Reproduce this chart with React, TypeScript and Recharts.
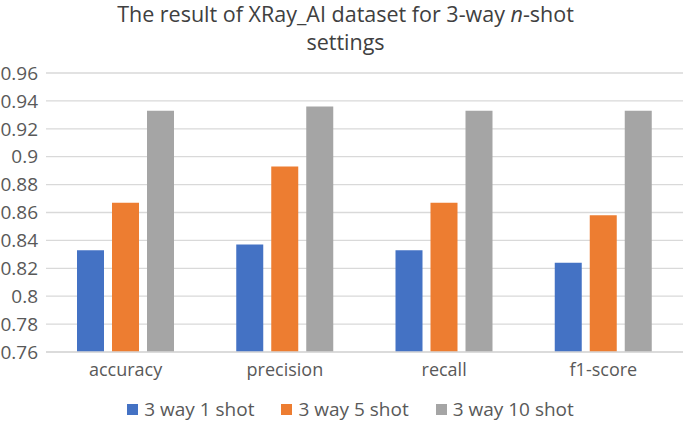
import React from "react";
import { BarChart, Bar, XAxis, YAxis, CartesianGrid, Legend } from "recharts";

const categories = ["accuracy", "precision", "recall", "f1-score"];
const oneShot = [0.833, 0.837, 0.833, 0.824];
const fiveShot = [0.867, 0.893, 0.867, 0.858];
const tenShot = [0.933, 0.936, 0.933, 0.933];
const yTicks = [0.76, 0.78, 0.8, 0.82, 0.84, 0.86, 0.88, 0.9, 0.92, 0.94, 0.96];
const seriesNames = ["3 way 1 shot", "3 way 5 shot", "3 way 10 shot"];
const colors = ["#4472C4", "#ED7D31", "#A5A5A5"];

const data = categories.map((c, i) => ({
  name: c,
  s1: oneShot[i],
  s5: fiveShot[i],
  s10: tenShot[i],
}));

const FONT = "'Open Sans', sans-serif";

const LegendContent = (props: any) => {
  const payload = [...(props.payload || [])].sort(
    (a: any, b: any) => seriesNames.indexOf(a.value) - seriesNames.indexOf(b.value)
  );
  return (
    <div
      style={{
        display: "flex",
        justifyContent: "center",
        alignItems: "center",
        height: 27,
        lineHeight: "27px",
        fontFamily: FONT,
        fontSize: 19,
        color: "#595959",
        paddingLeft: 18,
      }}
    >
      {payload.map((p: any, i: number) => (
        <div key={i} style={{ display: "flex", alignItems: "center", marginRight: i < payload.length - 1 ? 27 : 0 }}>
          <div style={{ width: 11, height: 11, background: p.color, marginRight: 6 }} />
          <span>{p.value}</span>
        </div>
      ))}
    </div>
  );
};

export default function App() {
  return (
    <div style={{ position: "absolute", left: 0, top: 0, width: 685, height: 423, background: "#fff" }}>
      <div
        style={{
          position: "absolute",
          top: 0,
          left: 3,
          width: 685,
          textAlign: "center",
          fontFamily: FONT,
          fontSize: 21.5,
          lineHeight: "28px",
          color: "#404040",
          zIndex: 2,
        }}
      >
        The result of XRay_AI dataset for 3-way <i>n</i>-shot
        <br />
        settings
      </div>
      <BarChart
        width={685}
        height={423}
        data={data}
        margin={{ top: 73, right: 2, left: 0, bottom: 0 }}
        barCategoryGap="19.5%"
        barGap={8}
      >
        <CartesianGrid vertical={false} stroke="#d9d9d9" strokeWidth={1.3} />
        <XAxis
          dataKey="name"
          axisLine={{ stroke: "#d9d9d9", strokeWidth: 1.3 }}
          tickLine={false}
          tickSize={0}
          tickMargin={11}
          height={44}
          tick={{ fontFamily: FONT, fontSize: 18, fill: "#595959" }}
        />
        <YAxis
          domain={[0.76, 0.96]}
          ticks={yTicks}
          interval={0}
          width={46}
          axisLine={false}
          tickLine={false}
          tickSize={0}
          tickMargin={8}
          tickFormatter={(v: number) => String(Math.round(v * 100) / 100)}
          tick={{ fontFamily: FONT, fontSize: 19, fill: "#595959" }}
          allowDataOverflow
        />
        <Legend verticalAlign="bottom" content={<LegendContent />} />
        <Bar dataKey="s1" name={seriesNames[0]} fill={colors[0]} isAnimationActive={false} barSize={27} />
        <Bar dataKey="s5" name={seriesNames[1]} fill={colors[1]} isAnimationActive={false} barSize={27} />
        <Bar dataKey="s10" name={seriesNames[2]} fill={colors[2]} isAnimationActive={false} barSize={27} />
      </BarChart>
    </div>
  );
}
